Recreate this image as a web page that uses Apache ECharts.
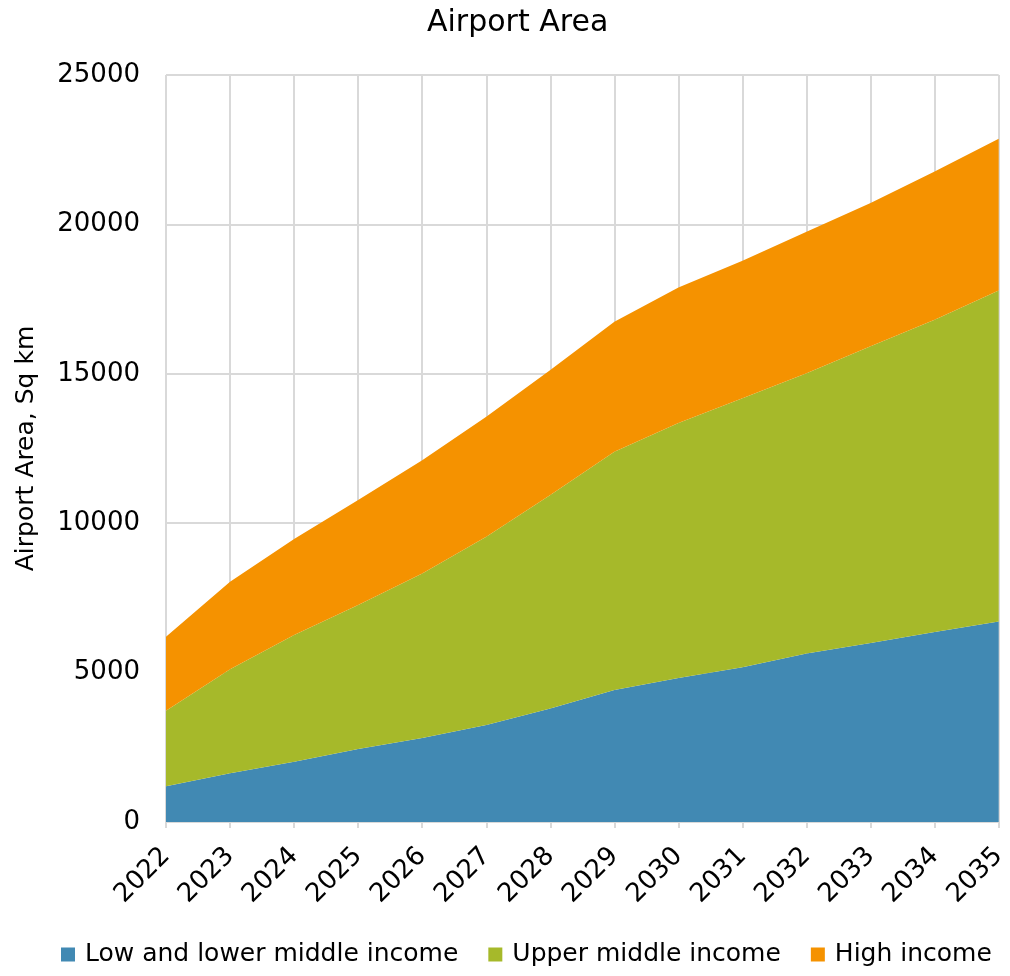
<!DOCTYPE html>
<html><head><meta charset="utf-8">
<script src="https://cdn.jsdelivr.net/npm/echarts@6/dist/echarts.min.js"></script>
<style>html,body{margin:0;padding:0;background:#fff}#c{width:1010px;height:976px}</style>
</head><body><div id="c"></div>
<script>
const years = ['2022','2023','2024','2025','2026','2027','2028','2029','2030','2031','2032','2033','2034','2035'];
const lowIncome = [1200, 1630, 2020, 2440, 2810, 3250, 3800, 4420, 4820, 5180, 5640, 5990, 6360, 6710];
const upperMiddle = [2520, 3480, 4240, 4820, 5510, 6300, 7140, 7970, 8530, 9000, 9380, 9930, 10450, 11080];
const highIncome = [2480, 2930, 3210, 3520, 3790, 4010, 4190, 4350, 4540, 4600, 4730, 4800, 4960, 5080];
const seriesNames = ['Low and lower middle income', 'Upper middle income', 'High income'];
const colors = ['#4189B3', '#A6B92A', '#F59200'];
const FONT = 'DejaVu Sans';

const chart = echarts.init(document.getElementById('c'));
const mk = (name, data, color) => ({
  name, type: 'line', stack: 'total', data, symbol: 'none',
  lineStyle: { width: 0 }, areaStyle: { color, opacity: 1 }, itemStyle: { color }
});
chart.setOption({
  animation: false,
  textStyle: { fontFamily: FONT },
  title: { text: 'Airport Area', left: 422, top: 3,
    textStyle: { fontFamily: FONT, fontSize: 30, fontWeight: 'normal', color: '#000' } },
  legend: { bottom: 4, left: 56, itemWidth: 14, itemHeight: 14, itemGap: 30,
    icon: 'rect', textStyle: { fontFamily: FONT, fontSize: 25, color: '#000', padding: [0, 0, 0, 5] },
    data: seriesNames },
  grid: { left: 166, right: 5, top: 75, bottom: 154 },
  xAxis: { type: 'category', data: years, boundaryGap: false,
    axisLine: { lineStyle: { color: '#d9d9d9', width: 2 } },
    axisTick: { show: true, length: 6, lineStyle: { color: '#d9d9d9', width: 2 } },
    splitLine: { show: true, lineStyle: { color: '#d9d9d9', width: 2 } },
    axisLabel: { rotate: 45, fontSize: 26, color: '#000', margin: 30, fontFamily: FONT } },
  yAxis: { type: 'value', min: 0, max: 25000, interval: 5000,
    name: 'Airport Area, Sq km', nameLocation: 'middle', nameGap: 127,
    nameTextStyle: { fontSize: 25, color: '#000', fontFamily: FONT },
    axisLine: { show: false }, axisTick: { show: false },
    splitLine: { lineStyle: { color: '#d9d9d9', width: 2 } },
    axisLabel: { fontSize: 26, color: '#000', margin: 26, fontFamily: FONT,
      formatter: v => String(v) } },
  series: [
    mk(seriesNames[0], lowIncome, colors[0]),
    mk(seriesNames[1], upperMiddle, colors[1]),
    mk(seriesNames[2], highIncome, colors[2])
  ]
});
</script></body></html>
